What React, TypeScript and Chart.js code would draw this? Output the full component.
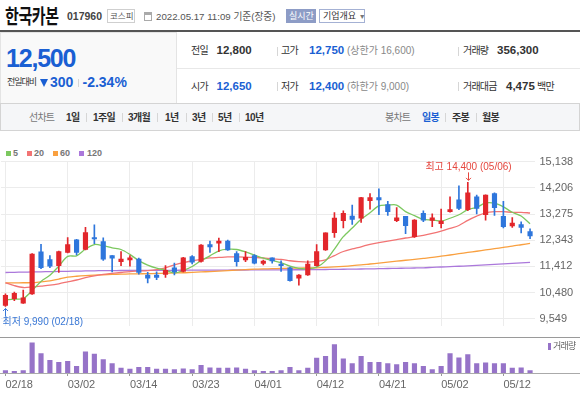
import React, { useEffect, useRef } from "react";
import { Chart, registerables } from "chart.js";
Chart.register(...registerables);

const FONT = '"Liberation Sans", "Noto Sans CJK KR", sans-serif';

const dates = ["02/18","02/21","02/22","02/23","02/24","02/25","02/28","03/02","03/03","03/04","03/07","03/08","03/10","03/11","03/14","03/15","03/16","03/17","03/18","03/21","03/22","03/23","03/24","03/25","03/28","03/29","03/30","03/31","04/01","04/04","04/05","04/06","04/07","04/08","04/11","04/12","04/13","04/14","04/15","04/18","04/19","04/20","04/21","04/22","04/25","04/26","04/27","04/28","04/29","05/02","05/03","05/04","05/06","05/09","05/10","05/11","05/12","05/13","05/16","05/17"];
const tickDates = ["02/18","03/02","03/14","03/23","04/01","04/12","04/21","05/02","05/12"];

const opens = [10030,10270,10110,10440,11930,11660,11440,11910,12360,12020,12440,12300,11800,11580,11640,11670,11110,11110,11130,11360,11240,11760,11590,12190,12240,12310,11870,11640,11800,11520,11720,11500,11360,11000,11110,11440,12000,12610,13040,13200,13130,13750,13860,13610,13040,13190,12470,13300,13050,12930,13360,13780,13430,13890,13250,14000,13190,12850,12900,12650];
const highs = [10440,10500,10570,11870,12200,11800,11960,12440,12380,12800,12890,12430,11800,11940,11800,11710,11200,11220,11440,11530,11740,11800,12190,12310,12420,12350,11940,11940,11830,11640,11720,11610,11390,11120,11610,12190,12610,13330,13390,13590,13870,14000,14170,13730,13500,13190,13080,13390,13280,13450,13890,14280,14400,13950,13960,14030,13730,13150,13000,12750];
const lows = [9990,10200,10100,10420,11330,11370,11200,11890,11820,12000,12220,11630,11220,11440,11420,11140,10830,10940,11020,11110,11220,11500,11560,11910,11940,11980,11420,11580,11500,11470,11530,11240,10890,10750,11090,11420,11980,12440,12780,12910,12980,13450,13250,13230,13000,12580,12440,13000,12830,12780,13340,13430,13390,13280,13060,13230,12780,12800,12600,12400];
const closes = [10390,10460,10300,11850,11370,11420,11940,12190,11910,12620,12390,11670,11710,11670,11720,11200,11000,11020,11270,11220,11720,11560,12170,12110,12310,12000,11580,11740,11530,11600,11610,11440,10910,11110,11500,11940,12610,13130,13300,13080,13860,13860,13780,13360,13140,12860,13060,13060,13140,13020,13430,13470,14030,13470,13950,13500,12830,12950,12800,12500];

const ma5 = [10220,10253,10273,10554,10881,11100,11420,11770,11790,12030,12190,12150,12075,12015,11840,11620,11460,11350,11280,11180,11270,11410,11620,11790,11968,12025,12015,11930,11815,11705,11625,11545,11420,11345,11330,11385,11609,12030,12470,12780,13090,13320,13565,13590,13595,13360,13220,13085,13065,13025,13125,13250,13430,13510,13668,13660,13530,13338,13203,12930];
const ma20 = [10831,10731,10664,10681,10714,10747,10797,10864,10931,11014,11081,11131,11165,11198,11231,11248,11265,11298,11365,11465,11549,11615,11665,11716,11732,11749,11749,11742,11732,11716,11682,11665,11615,11582,11565,11590,11650,11800,11943,12033,12110,12200,12256,12310,12367,12423,12467,12517,12584,12667,12767,12868,13051,13201,13318,13358,13358,13335,13335,13312];
const ma60 = [10831,10831,10833,10835,10864,10897,10964,11031,11064,11088,11105,11118,11131,11138,11145,11151,11154,11165,11171,11181,11188,11205,11218,11231,11248,11265,11282,11298,11315,11325,11332,11342,11348,11355,11362,11365,11378,11395,11415,11438,11465,11499,11532,11565,11599,11632,11665,11699,11732,11776,11819,11866,11909,11953,12000,12043,12090,12133,12183,12233];
const ma120 = [11198,11204,11211,11216,11222,11229,11234,11240,11247,11252,11258,11265,11266,11268,11269,11271,11272,11274,11275,11276,11278,11279,11280,11282,11283,11285,11286,11287,11289,11290,11291,11292,11294,11295,11296,11298,11303,11308,11313,11318,11322,11327,11332,11339,11345,11352,11358,11365,11379,11393,11407,11420,11434,11448,11466,11484,11502,11520,11538,11555];
const volumes = [360,265,355,4650,2990,1970,1660,1810,1040,3250,2900,2060,1440,775,620,880,885,620,615,510,625,515,1190,780,770,775,780,620,360,265,270,355,880,360,775,2320,2590,4390,2170,1440,2590,1660,1650,1445,1290,1660,1440,1040,510,1040,2990,2330,2840,1440,1550,1445,1440,775,780,356];

const priceTicks = [9549, 10480.5, 11412, 12343.5, 13275, 14206.5, 15138];
const priceTickLabels = ["9,549","10,480","11,412","12,343","13,275","14,206","15,138"];
const P_MIN = 9282;
const P_MAX = 15138;
const V_MAX = 5400;

const RED = "#e2262b";
const BLUE = "#2e76dc";
const C5 = "#7cc85f";
const C20 = "#f27474";
const C60 = "#f9a040";
const C120 = "#ab78db";
const CVOL = "#9673c8";
const GRID = "#ececec";

const fmt = (n: number) => n.toLocaleString("en-US");

type TP = { x: number; y: number; s?: number; c?: string; b?: boolean; ls?: number; sx?: number; children?: React.ReactNode };
const T = ({ x, y, s = 12, c = "#333", b = false, ls = 0, sx = 1, children }: TP) => (
  <span
    style={{
      position: "absolute",
      left: x,
      top: y - s / 2,
      fontSize: s,
      lineHeight: `${s}px`,
      color: c,
      fontWeight: b ? 700 : 400,
      letterSpacing: ls,
      whiteSpace: "nowrap",
      transform: sx !== 1 ? `scaleX(${sx})` : undefined,
      transformOrigin: "left center",
    }}
  >
    {children}
  </span>
);
const Box = ({ x, y, w, h, bg, border }: { x: number; y: number; w: number; h: number; bg?: string; border?: string }) => (
  <div style={{ position: "absolute", left: x, top: y, width: w, height: h, background: bg, border, boxSizing: "border-box" }} />
);
const Sep = ({ x, y, h = 10, c = "#d6d6d6" }: { x: number; y: number; h?: number; c?: string }) => (
  <div style={{ position: "absolute", left: x, top: y - h / 2, width: 1, height: h, background: c }} />
);

export default function App() {
  const priceRef = useRef<HTMLCanvasElement>(null);
  const volRef = useRef<HTMLCanvasElement>(null);

  useEffect(() => {
    Chart.defaults.font.family = FONT;
    const candleColors = closes.map((c, i) => (c >= opens[i] ? RED : BLUE));
    const tickIdx = new Set(tickDates.map((d) => dates.indexOf(d)));
    const hiIdx = highs.indexOf(Math.max(...highs));
    const loIdx = lows.indexOf(Math.min(...lows));

    const annot = {
      id: "annot",
      afterDatasetsDraw(chart: any) {
        const { ctx, scales } = chart;
        const xs = scales.x, ys = scales.y;
        ctx.save();
        ctx.font = `10px ${FONT}`;
        ctx.lineWidth = 1;
        // high
        const xh = Math.round(xs.getPixelForValue(hiIdx)) + 0.5;
        const yh = ys.getPixelForValue(highs[hiIdx]);
        ctx.strokeStyle = "#e5473f";
        ctx.fillStyle = "#e5473f";
        ctx.beginPath();
        ctx.moveTo(xh, yh - 10);
        ctx.lineTo(xh, yh - 2);
        ctx.moveTo(xh - 2.5, yh - 4.5);
        ctx.lineTo(xh, yh - 2);
        ctx.lineTo(xh + 2.5, yh - 4.5);
        ctx.stroke();
        ctx.textAlign = "center";
        ctx.textBaseline = "middle";
        ctx.fillText(`최고 ${fmt(highs[hiIdx])} (${dates[hiIdx]})`, xh, yh - 15);
        // low
        const xl = Math.round(xs.getPixelForValue(loIdx)) + 0.5;
        const yl = ys.getPixelForValue(lows[loIdx]);
        ctx.strokeStyle = "#3a78d6";
        ctx.fillStyle = "#3a78d6";
        ctx.beginPath();
        ctx.moveTo(xl, yl + 10);
        ctx.lineTo(xl, yl + 2);
        ctx.moveTo(xl - 2.5, yl + 4.5);
        ctx.lineTo(xl, yl + 2);
        ctx.lineTo(xl + 2.5, yl + 4.5);
        ctx.stroke();
        ctx.textAlign = "left";
        ctx.fillText(`최저 ${fmt(lows[loIdx])} (${dates[loIdx]})`, xl - 3, yl + 16);
        ctx.restore();
      },
    };

    const line = (label: string, data: number[], color: string, order: number) => ({
      type: "line" as const,
      label,
      data,
      borderColor: color,
      borderWidth: 1.3,
      pointRadius: 0,
      tension: 0.3,
      order,
    });

    const price = new Chart(priceRef.current!, {
      type: "bar",
      data: {
        labels: dates,
        datasets: [
          { type: "bar", label: "body", data: opens.map((o, i) => [o, closes[i]]) as any, backgroundColor: candleColors, barThickness: 4.5, grouped: false, minBarLength: 1, order: 0 },
          { type: "bar", label: "wick", data: lows.map((l, i) => [l, highs[i]]) as any, backgroundColor: candleColors, barThickness: 1, grouped: false, order: 1 },
          line("5", ma5, C5, 2),
          line("20", ma20, C20, 3),
          line("60", ma60, C60, 4),
          line("120", ma120, C120, 5),
        ] as any,
      },
      options: {
        responsive: false,
        animation: false,
        layout: { padding: { left: 1, top: 11, right: 0, bottom: 1 } },
        plugins: { legend: { display: false }, tooltip: { enabled: false } },
        scales: {
          x: {
            type: "category",
            offset: true,
            grid: { offset: false, drawTicks: false, color: (c: any) => (tickIdx.has(c.index) ? GRID : "rgba(0,0,0,0)") },
            border: { display: false },
            ticks: { display: false, autoSkip: false },
            afterFit: (s: any) => { s.height = 0; },
          },
          y: {
            position: "right",
            min: P_MIN,
            max: P_MAX,
            afterBuildTicks: (s: any) => { s.ticks = priceTicks.map((v) => ({ value: v })); },
            ticks: { callback: (_v: any, i: number) => priceTickLabels[i], color: "#666", font: { size: 11 }, padding: 5 },
            grid: { color: GRID, drawTicks: false },
            border: { display: false },
            afterFit: (s: any) => { s.width = 45.5; },
          },
        },
      } as any,
      plugins: [annot],
    });

    const vol = new Chart(volRef.current!, {
      type: "bar",
      data: {
        labels: dates,
        datasets: [{ label: "거래량", data: volumes, backgroundColor: CVOL, barThickness: 4.5 }],
      },
      options: {
        responsive: false,
        animation: false,
        layout: { padding: { left: 1, right: 45.5, top: 0, bottom: 0 } },
        plugins: { legend: { display: false }, tooltip: { enabled: false } },
        scales: {
          x: {
            offset: true,
            grid: { offset: false, drawOnChartArea: false, tickLength: 3, tickColor: (c: any) => (tickIdx.has(c.index) ? "#999" : "rgba(0,0,0,0)") },
            border: { display: false },
            ticks: {
              autoSkip: false, maxRotation: 0, minRotation: 0, align: "start", padding: 2,
              color: "#666", font: { size: 11 },
              callback: (_v: any, i: number) => (tickIdx.has(i) ? dates[i] : ""),
            },
            afterFit: (s: any) => { s.height = 25; },
          },
          y: { display: false, min: 0, max: V_MAX },
        },
      } as any,
    });

    return () => { price.destroy(); vol.destroy(); };
  }, []);

  return (
    <div style={{ position: "absolute", left: 0, top: 0, width: 580, height: 398, overflow: "hidden", background: "#fff", fontFamily: FONT }}>
      {/* row 1 */}
      <T x={5} y={16.5} s={20} b c="#111" ls={-0.5} sx={0.75}>한국카본</T>
      <T x={67} y={16.5} s={10.5} b c="#444">017960</T>
      <Box x={107} y={9} w={28} h={14} border="1px solid #cfcfcf" />
      <T x={110} y={16} s={8.5} c="#555">코스피</T>
      <Box x={144} y={12} w={8} h={9} border="1px solid #aaa" />
      <Box x={144} y={12} w={8} h={3} bg="#aaa" />
      <T x={156} y={16.5} s={9.7} c="#555">2022.05.17 11:09 기준(장중)</T>
      <Box x={286} y={9} w={30} h={14} bg="#8d9cc6" />
      <T x={289} y={16} s={9} c="#fff">실시간</T>
      <Box x={319} y={9} w={46} h={14} border="1px solid #a4b1d4" />
      <T x={323} y={16} s={9} c="#333">기업개요 <span style={{ fontSize: 7, color: "#777" }}>▼</span></T>
      <Box x={0} y={30} w={580} h={2} bg="#555" />

      {/* row 2 */}
      <Box x={0} y={32} w={177} h={72} bg="#f9f9f9" border="1px solid #e4e4e4" />
      <T x={6} y={58.8} s={25} b c="#1a5fd3" ls={-1.2}>12,500</T>
      <T x={7} y={82.5} s={9} c="#333" ls={-1}>전일대비</T>
      <div style={{ position: "absolute", left: 40, top: 78.5, width: 0, height: 0, borderLeft: "4.5px solid transparent", borderRight: "4.5px solid transparent", borderTop: "8px solid #1a5fd3" }} />
      <T x={50} y={82.3} s={14} b c="#1a5fd3">300</T>
      <Sep x={78} y={82.5} h={8} />
      <T x={82.5} y={82.3} s={14} b c="#1a5fd3">-2.34%</T>

      <T x={191} y={51} s={10} c="#333" ls={-0.6}>전일</T>
      <T x={216.5} y={51} s={11.5} b c="#333">12,800</T>
      <Sep x={277} y={51} h={9} />
      <T x={281} y={51} s={10} c="#333" ls={-0.6}>고가</T>
      <T x={309} y={51} s={11.5} b c="#1a5fd3">12,750</T>
      <T x={347} y={51} s={10} c="#888">(상한가 16,600)</T>
      <Sep x={458} y={51} h={9} />
      <T x={463} y={51} s={10} c="#333" ls={-0.8}>거래량</T>
      <T x={497} y={51} s={11.5} b c="#333">356,300</T>

      <Box x={177} y={68} w={403} h={1} bg="#e8e8e8" />

      <T x={191} y={86.5} s={10} c="#333" ls={-0.6}>시가</T>
      <T x={216.5} y={86.5} s={11.5} b c="#1a5fd3">12,650</T>
      <Sep x={277} y={86.5} h={9} />
      <T x={281} y={86.5} s={10} c="#333" ls={-0.6}>저가</T>
      <T x={309} y={86.5} s={11.5} b c="#1a5fd3">12,400</T>
      <T x={347} y={86.5} s={10} c="#888">(하한가 9,000)</T>
      <Sep x={458} y={86.5} h={9} />
      <T x={463} y={86.5} s={10} c="#333" ls={-0.8}>거래대금</T>
      <T x={506} y={86.5} s={11.5} b c="#333">4,475</T>
      <T x={537} y={86.5} s={10} c="#333" ls={-0.6}>백만</T>

      {/* tabs */}
      <Box x={0} y={103} w={580} h={28} bg="#f5f6f8" border="1px solid #d4d4d4" />
      <T x={29} y={117.5} s={10} c="#777" ls={-0.8}>선차트</T>
      <T x={66} y={117.5} s={10} b c="#333" ls={-0.6}>1일</T>
      <Sep x={86} y={117.5} h={9} />
      <T x={93} y={117.5} s={10} b c="#333" ls={-0.6}>1주일</T>
      <Sep x={122} y={117.5} h={9} />
      <T x={128} y={117.5} s={10} b c="#333" ls={-0.6}>3개월</T>
      <Sep x={157} y={117.5} h={9} />
      <T x={165} y={117.5} s={10} b c="#333" ls={-0.6}>1년</T>
      <Sep x={186} y={117.5} h={9} />
      <T x={192} y={117.5} s={10} b c="#333" ls={-0.6}>3년</T>
      <Sep x={212} y={117.5} h={9} />
      <T x={218} y={117.5} s={10} b c="#333" ls={-0.6}>5년</T>
      <Sep x={239} y={117.5} h={9} />
      <T x={245} y={117.5} s={10} b c="#333" ls={-0.6}>10년</T>
      <T x={385} y={117.5} s={10} c="#777" ls={-0.8}>봉차트</T>
      <T x={422} y={117.5} s={10} b c="#1a5fd3" ls={-0.6}>일봉</T>
      <Sep x={445} y={117.5} h={9} />
      <T x={452} y={117.5} s={10} b c="#333" ls={-0.6}>주봉</T>
      <Sep x={476} y={117.5} h={9} />
      <T x={482} y={117.5} s={10} b c="#333" ls={-0.6}>월봉</T>

      {/* legend */}
      <Box x={6} y={151} w={5} h={5} bg={C5} />
      <T x={13} y={153.5} s={9} b c="#777">5</T>
      <Box x={27} y={151} w={5} h={5} bg={C20} />
      <T x={34} y={153.5} s={9} b c="#777">20</T>
      <Box x={53} y={151} w={5} h={5} bg={C60} />
      <T x={60} y={153.5} s={9} b c="#777">60</T>
      <Box x={79} y={151} w={5} h={5} bg={C120} />
      <T x={87} y={153.5} s={9} b c="#777">120</T>

      <canvas ref={priceRef} width={580} height={188} style={{ position: "absolute", left: 0, top: 150, width: 580, height: 188 }} />
      <Box x={0} y={336.5} w={580} h={1.5} bg="#9a9a9a" />
      <canvas ref={volRef} width={580} height={60} style={{ position: "absolute", left: 0, top: 338, width: 580, height: 60 }} />
      <Box x={0} y={372.5} w={580} h={1} bg="#aaa" />
      <Box x={548} y={343} w={3} h={7} bg={CVOL} />
      <T x={553} y={346.5} s={9} c="#666" ls={-0.8}>거래량</T>
    </div>
  );
}
